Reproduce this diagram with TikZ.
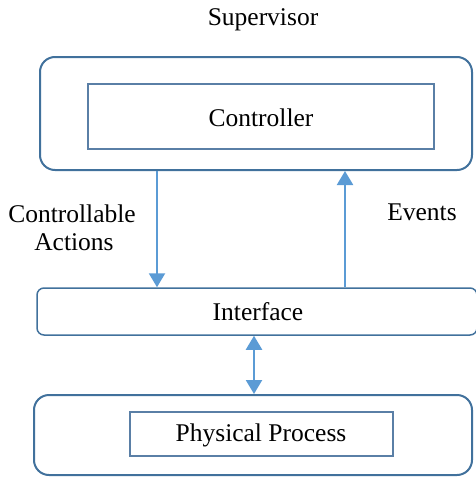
\documentclass[tikz,border=0pt]{standalone}
\usepackage{fontspec}
\setmainfont{Liberation Serif}
\usepackage{tikz}
\usetikzlibrary{arrows.meta, positioning, calc}
\definecolor{frameBlue}{HTML}{41719C}
\definecolor{arrowBlue}{HTML}{5B9BD5}
\definecolor{innerBlue}{HTML}{5A7FA6}
\tikzset{
    outerBox/.style={
        draw=frameBlue,
        line width=2pt,
        rounded corners=15pt,
        inner sep=0pt
    },
    innerBox/.style={
        draw=innerBlue,
        line width=1.6pt,
        inner sep=0pt
    },
    ifaceBox/.style={
        draw=frameBlue,
        line width=1.5pt,
        rounded corners=7pt,
        inner sep=0pt
    },
    flowLine/.style={
        draw=arrowBlue,
        line width=2.2pt,
        -{Triangle[length=14pt, width=16pt]}
    },
    flowBoth/.style={
        draw=arrowBlue,
        line width=2.2pt,
        {Triangle[length=14pt, width=16pt]}-{Triangle[length=14pt, width=16pt]}
    },
    lbl/.style={
        font=\fontsize{25.5}{29}\selectfont,
        inner sep=0pt,
        align=center
    }
}

\begin{document}
\begin{tikzpicture}[x=1pt, y=-1pt]
        \useasboundingbox (0,0) rectangle (475,477);

        % Boxes
        \node[outerBox, minimum width=432pt, minimum height=113pt] (supBox) at (256,113.5) {};
        \node[innerBox, minimum width=346pt, minimum height=65pt] (ctrlBox) at (261,116.5) {};
        \node[lbl] (ctrlText) at (261,118) {Controller};
        \node[lbl] (supText) at (263,20) {Supervisor};

        \node[ifaceBox, minimum width=440pt, minimum height=47pt] (ifaceBox) at (257,311.5) {};
        \node[lbl] (ifaceText) at (258,312) {Interface};

        \node[outerBox, minimum width=438pt, minimum height=80pt] (physBox) at (253,435) {};
        \node[innerBox, minimum width=263pt, minimum height=44pt] (procBox) at (261.5,434) {};
        \node[lbl] (procText) at (261,435) {Physical Process};

        % Arrow positions
        \coordinate (downX) at (157,0);
        \coordinate (upX) at (345,0);
        \coordinate (bothX) at (254,0);

        % Connectors
        \draw[flowLine] (supBox.south -| downX) -- (ifaceBox.north -| downX);
        \draw[flowLine] (ifaceBox.north -| upX) -- (supBox.south -| upX);
        \draw[flowBoth] (ifaceBox.south -| bothX) -- (physBox.north -| bothX);

        % Labels
        \node[lbl] (ctrlAct) at (72,214) {Controllable};
        \node[lbl] (actText) at (74,242) {Actions};
        \node[lbl] (evText) at (422,212) {Events};

    \end{tikzpicture}
\end{document}
